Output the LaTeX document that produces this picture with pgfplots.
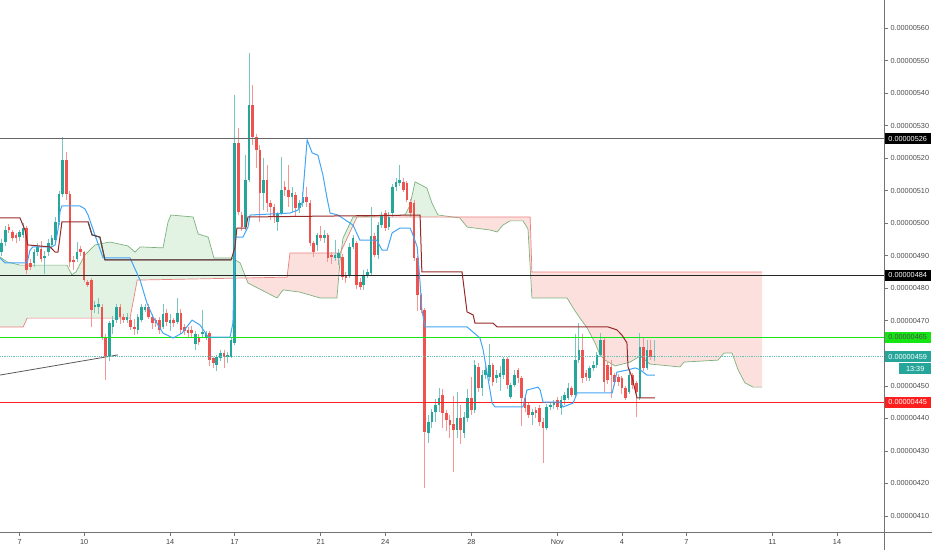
\documentclass[border=0pt]{standalone}
\usepackage{fontspec}
\setmainfont{Liberation Sans}
\usepackage{pgfplots}
\usepackage{pgfplotstable}
\pgfplotsset{compat=1.18}
\definecolor{upc}{RGB}{38,166,154}
\definecolor{dnc}{RGB}{239,83,80}
\definecolor{upw}{RGB}{120,198,190}
\definecolor{dnw}{RGB}{244,150,148}
\definecolor{cloudg}{RGB}{226,242,227}
\definecolor{cloudr}{RGB}{252,224,222}
\definecolor{leadA}{RGB}{125,178,125}
\definecolor{leadB}{RGB}{236,128,126}
\definecolor{tenkan}{RGB}{66,165,245}
\definecolor{kijun}{RGB}{150,40,40}
\definecolor{tvgreen}{RGB}{20,230,20}
\definecolor{tvred}{RGB}{255,30,30}
\definecolor{lastc}{RGB}{38,166,154}
\pgfplotstableread{
i o h l c
0 491.2 495.0 490.0 493.8
1 494.3 499.0 493.0 497.9
2 498.9 499.8 497.0 497.9
3 497.3 498.0 494.5 495.3
4 496.3 497.0 494.0 495.3
5 495.8 498.0 494.5 497.3
6 496.3 500.0 495.5 498.4
7 498.4 499.0 484.5 485.5
8 487.6 489.0 485.5 486.6
9 487.6 492.0 486.6 491.2
10 491.2 494.0 490.0 492.7
11 492.2 494.5 488.0 489.1
12 489.5 491.5 484.5 489.9
13 491.2 495.0 490.0 493.8
14 493.2 496.5 492.7 495.3
15 494.8 502.0 494.0 500.4
16 500.4 510.0 499.5 509.1
17 509.1 526.6 508.0 519.4
18 519.4 522.0 507.0 509.1
19 509.1 510.0 486.6 488.1
20 488.6 490.0 485.5 488.1
21 489.1 494.3 488.0 491.2
22 492.2 493.0 490.0 491.2
23 491.2 491.5 482.0 482.5
24 482.0 482.5 480.3 480.9
25 482.5 483.0 468.1 473.3
26 474.3 476.0 472.5 474.8
27 474.3 477.0 472.0 475.3
28 474.3 475.0 464.0 465.1
29 465.1 466.0 451.7 458.9
30 458.9 470.0 457.5 469.2
31 468.1 471.5 466.0 470.2
32 470.2 475.3 469.2 474.3
33 474.3 475.0 469.0 471.2
34 471.2 472.0 469.2 470.2
35 470.2 472.5 469.2 471.2
36 470.2 471.0 467.1 468.1
37 468.2 470.5 465.5 467.6
38 467.1 472.0 466.0 471.2
39 470.2 475.3 469.5 474.3
40 473.3 475.3 472.8 474.3
41 474.3 475.3 470.5 471.2
42 471.2 472.0 467.5 469.2
43 470.2 471.0 468.0 469.2
44 470.2 471.0 466.0 467.1
45 468.1 475.3 467.5 472.2
46 472.3 473.5 468.5 469.7
47 469.2 472.0 467.0 470.2
48 470.2 471.0 468.0 469.2
49 469.7 477.0 469.0 472.3
50 472.3 473.5 466.0 467.2
51 468.2 469.0 465.5 466.7
52 467.2 468.0 465.0 466.1
53 467.2 468.5 465.0 466.1
54 463.0 467.0 461.0 466.0
55 465.1 466.0 462.5 463.6
56 466.0 473.3 465.0 466.5
57 465.1 467.0 464.0 466.1
58 466.1 467.0 456.0 457.9
59 458.4 459.0 455.5 456.9
60 456.4 459.5 454.5 458.9
61 458.4 461.0 457.5 460.0
62 460.0 461.0 455.5 459.0
63 458.9 460.5 457.0 459.5
64 458.9 464.6 458.5 464.1
65 463.1 539.4 462.5 524.5
66 524.5 529.1 502.5 503.5
67 502.5 503.5 497.5 498.9
68 498.9 521.0 498.0 513.3
69 513.3 552.2 512.5 536.3
70 536.3 542.5 524.0 526.6
71 526.6 527.5 517.0 522.5
72 522.5 524.0 500.5 509.2
73 509.2 519.9 504.0 513.3
74 513.3 517.9 503.5 506.1
75 506.1 507.0 501.0 505.1
76 505.1 506.0 500.0 502.0
77 500.5 503.5 497.5 503.0
78 503.0 520.4 502.5 510.2
79 511.2 513.0 508.5 510.2
80 510.2 518.0 505.0 508.1
81 508.1 511.0 503.5 509.2
82 508.6 509.5 502.0 504.6
83 504.6 507.0 503.0 506.1
84 506.1 509.5 505.0 508.1
85 508.1 511.0 505.0 506.6
86 506.1 507.0 493.0 493.8
87 493.8 494.5 489.7 491.2
88 493.3 497.0 491.5 496.4
89 496.4 499.0 494.5 495.3
90 495.3 498.0 494.0 496.4
91 496.4 497.0 488.0 489.2
92 490.2 491.0 487.5 489.7
93 489.2 494.8 488.5 490.2
94 489.2 492.0 487.0 490.7
95 489.7 490.5 482.5 483.6
96 484.1 485.0 481.5 483.1
97 484.1 494.0 483.0 492.8
98 492.8 496.5 492.0 495.3
99 493.8 494.5 479.8 481.0
100 482.0 483.0 479.5 480.5
101 481.0 485.5 479.5 484.1
102 484.1 486.0 483.0 485.1
103 484.6 505.0 484.0 496.0
104 496.0 497.0 489.5 490.2
105 490.2 500.5 489.0 499.4
106 499.4 503.5 498.5 502.5
107 503.0 504.0 497.5 498.4
108 498.9 503.5 498.0 502.0
109 503.0 512.0 502.0 511.2
110 511.2 514.0 510.0 512.8
111 512.3 517.9 511.5 513.3
112 512.8 514.0 509.5 510.2
113 512.3 513.0 506.5 507.1
114 506.6 507.5 502.0 503.0
115 506.1 507.0 488.5 489.2
116 489.2 490.0 473.0 477.9
117 477.9 478.5 472.5 473.3
118 473.3 474.0 418.5 435.9
119 435.4 441.0 432.3 439.0
120 439.0 443.0 437.0 442.1
121 442.1 446.0 439.0 444.1
122 444.1 449.2 442.0 446.2
123 447.2 449.0 437.0 441.6
124 441.6 442.5 436.0 439.4
125 439.4 441.0 434.0 438.0
126 438.4 447.0 423.6 436.3
127 436.3 448.0 434.0 440.0
128 440.0 444.0 432.0 436.4
129 435.4 442.0 434.0 440.5
130 440.0 449.0 439.0 446.2
131 446.2 452.8 441.0 442.6
132 442.6 458.0 441.5 456.4
133 455.9 457.0 448.0 449.2
134 449.2 455.0 447.0 453.3
135 453.3 456.0 452.0 454.9
136 452.8 463.0 451.5 456.4
137 456.4 457.0 450.0 451.3
138 452.3 455.0 451.0 453.3
139 452.8 456.0 448.5 453.8
140 453.3 459.0 452.0 458.2
141 458.2 459.0 449.0 450.3
142 446.7 451.0 446.0 450.3
143 450.3 455.0 449.5 453.3
144 454.9 455.5 451.0 452.3
145 452.3 453.0 437.5 446.2
146 446.2 447.0 442.0 443.1
147 444.1 445.0 440.0 441.0
148 441.0 443.0 438.0 442.0
149 442.6 443.5 440.0 441.6
150 443.1 444.0 437.5 439.0
151 439.0 440.0 426.2 437.0
152 437.0 444.5 436.5 443.6
153 443.6 445.0 442.5 444.1
154 444.1 445.5 443.0 444.6
155 445.7 446.5 442.5 443.6
156 443.1 447.0 441.0 445.7
157 445.7 448.0 444.0 447.2
158 446.2 451.0 445.5 449.2
159 449.2 450.0 446.5 447.2
160 447.2 466.0 446.5 458.0
161 458.0 469.2 457.0 461.0
162 461.0 466.0 451.0 452.3
163 453.8 455.0 451.5 452.8
164 452.3 456.0 451.5 455.4
165 455.4 457.5 454.5 456.4
166 456.4 460.5 455.5 459.5
167 459.5 466.2 459.0 464.1
168 464.1 464.8 448.2 451.3
169 456.4 457.5 450.5 451.8
170 455.9 458.0 446.2 453.3
171 453.3 454.0 450.0 451.3
172 452.8 453.5 450.0 451.3
173 452.3 453.0 447.5 449.2
174 449.2 450.0 445.5 446.2
175 448.2 454.5 447.5 453.3
176 453.3 454.0 449.0 450.3
177 450.8 451.5 440.5 448.2
178 446.2 466.2 445.5 462.0
179 462.0 465.1 454.5 455.4
180 455.4 464.1 455.0 461.0
181 461.0 464.1 457.8 459.0
182 459.0 464.1 457.5 459.2
}\candles
\pgfplotsset{
  wickup/.style={draw=none, forget plot, error bars/.cd, y dir=both, y explicit, error mark=none,
     error bar style={draw=upw, solid, line width=0.9pt}},
  wickdn/.style={draw=none, forget plot, error bars/.cd, y dir=both, y explicit, error mark=none,
     error bar style={draw=dnw, solid, line width=0.9pt}},
  bodyup/.style={draw=none, forget plot, error bars/.cd, y dir=both, y explicit, error mark=none,
     error bar style={draw=upc, solid, line width=2.6pt, line cap=butt}},
  bodydn/.style={draw=none, forget plot, error bars/.cd, y dir=both, y explicit, error mark=none,
     error bar style={draw=dnc, solid, line width=2.6pt, line cap=butt}},
}
\newcommand{\tfont}{\fontsize{7.3}{8}\selectfont}
\begin{document}
\begin{tikzpicture}
\begin{axis}[
  at={(0pt,0pt)}, anchor=south west,
  scale only axis, width=884pt, height=532pt,
  xmin=-0.47, xmax=246.1, ymin=405.06, ymax=568.6,
  axis x line*=bottom, axis y line*=right,
  axis line style={draw=black!55, line width=0.7pt},
  xtick={5,23,47,65,89,107,131,155,173,191,215,233},
  xticklabels={7,10,14,17,21,24,28,Nov,4,7,11,14},
  ytick={410,420,430,440,450,460,470,480,490,500,510,520,530,540,550,560},
  yticklabels={0.00000410,0.00000420,0.00000430,0.00000440,0.00000450,{},0.00000470,0.00000480,0.00000490,0.00000500,0.00000510,0.00000520,0.00000530,0.00000540,0.00000550,0.00000560},
  tick align=outside, major tick length=4pt,
  tick style={draw=black!55, line width=0.6pt},
  xticklabel style={font=\tfont, text=black!75},
  yticklabel style={font=\tfont, text=black!70, xshift=-1pt},
  clip mode=individual,
  restrict y to domain=300:700,
]
% cloud fills
\addplot[fill=cloudg, draw=none, forget plot] coordinates {(-0.47,489.6) (1.5,488.1) (5.1,487.1) (18.2,487.1) (19.6,484.1) (20.7,485.0) (23.2,490.2) (26.0,493.3) (30.2,494.2) (35.2,493.0) (37.2,491.1) (38.6,492.7) (45.0,492.4) (46.4,500.4) (47.2,502.5) (53.4,501.9) (54.8,496.7) (57.6,495.7) (59.2,489.3) (64.2,489.3) (66.5,487.8) (68.1,483.3) (37.8,482.5) (35.8,470.8) (7.1,470.8) (6.0,468.1) (-0.47,468.1)};
\addplot[fill=cloudr, draw=none, forget plot] coordinates {(68.1,483.3) (68.7,481.6) (76.8,477.0) (78.5,479.5) (83.2,478.8) (88.8,477.0) (93.5,477.0) (94.4,488.7) (94.7,491.0) (94.4,490.8) (80.4,490.8) (79.6,483.4)};
\addplot[fill=cloudg, draw=none, forget plot] coordinates {(94.7,491.0) (95.2,495.4) (98.0,501.9) (99.1,501.9)};
\addplot[fill=cloudg, draw=none, forget plot] coordinates {(112.5,502.3) (113.9,505.6) (115.3,512.7) (118.6,510.8) (120.0,506.2) (121.7,502.5) (121.7,501.9) (112.5,501.9)};
\addplot[fill=cloudr, draw=none, forget plot] coordinates {(121.7,501.9) (127.8,501.6) (129.8,498.8) (136.2,497.9) (138.2,497.3) (139.8,499.4) (141.8,500.7) (145.4,500.7) (146.8,498.2) (147.9,477.0) (157.7,477.0) (159.4,473.9) (161.3,470.8) (163.3,467.8) (165.5,463.2) (166.9,459.5) (168.3,457.9) (171.1,456.1) (175.3,457.3) (178.1,459.2) (180.8,456.7) (189.2,455.8) (190.3,457.3) (199.8,457.9) (201.5,460.1) (203.7,460.1) (205.4,454.9) (207.3,450.9) (209.6,449.6) (212.1,449.6) (212.1,485.0) (147.9,485.0) (147.4,501.9)};
% lead lines
\addplot[leadA, line width=0.7pt, forget plot] coordinates {(-0.47,489.6) (1.5,488.1) (5.1,487.1) (18.2,487.1) (19.6,484.1) (20.7,485.0) (23.2,490.2) (26.0,493.3) (30.2,494.2) (35.2,493.0) (37.2,491.1) (38.6,492.7) (45.0,492.4) (46.4,500.4) (47.2,502.5) (53.4,501.9) (54.8,496.7) (57.6,495.7) (59.2,489.3) (64.2,489.3) (66.5,487.8) (68.7,481.6) (76.8,477.0) (78.5,479.5) (83.2,478.8) (88.8,477.0) (93.5,477.0) (94.4,488.7) (95.2,495.4) (98.0,501.9) (112.5,502.5) (113.9,505.6) (115.3,512.7) (118.6,510.8) (120.0,506.2) (121.7,502.5) (127.8,501.6) (129.8,498.8) (136.2,497.9) (138.2,497.3) (139.8,499.4) (141.8,500.7) (145.4,500.7) (146.8,498.2) (147.9,477.0) (157.7,477.0) (159.4,473.9) (161.3,470.8) (163.3,467.8) (165.5,463.2) (166.9,459.5) (168.3,457.9) (171.1,456.1) (175.3,457.3) (178.1,459.2) (180.8,456.7) (189.2,455.8) (190.3,457.3) (199.8,457.9) (201.5,460.1) (203.7,460.1) (205.4,454.9) (207.3,450.9) (209.6,449.6) (212.1,449.6)};
\addplot[leadB, line width=0.7pt, forget plot] coordinates {(-0.47,468.1) (6.0,468.1) (7.1,470.8) (35.8,470.8) (37.8,482.5) (79.6,483.4) (80.4,490.8) (94.4,490.8) (99.1,501.9) (147.4,501.9) (147.9,485.0) (212.1,485.0)};
% trend line
\addplot[black!65, line width=0.8pt, forget plot] coordinates {(-0.47,453.3) (32.4,459.5)};
% candles
\addplot[wickup] table[x=i, y expr={ifthenelse(\thisrow{c}<\thisrow{o},-1000,(\thisrow{h}+\thisrow{l})/2)}, y error expr={(\thisrow{h}-\thisrow{l})/2}] {\candles};
\addplot[wickdn] table[x=i, y expr={ifthenelse(\thisrow{c}<\thisrow{o},(\thisrow{h}+\thisrow{l})/2,-1000)}, y error expr={(\thisrow{h}-\thisrow{l})/2}] {\candles};
\addplot[bodyup] table[x=i, y expr={ifthenelse(\thisrow{c}<\thisrow{o},-1000,(\thisrow{o}+\thisrow{c})/2)}, y error expr={max(abs(\thisrow{c}-\thisrow{o})/2,0.18)}] {\candles};
\addplot[bodydn] table[x=i, y expr={ifthenelse(\thisrow{c}<\thisrow{o},(\thisrow{o}+\thisrow{c})/2,-1000)}, y error expr={max(abs(\thisrow{c}-\thisrow{o})/2,0.18)}] {\candles};
% horizontal levels
\addplot[black!60, line width=1.3pt, forget plot] coordinates {(-0.47,526) (246.1,526)};
\addplot[black!85, line width=0.9pt, forget plot] coordinates {(-0.47,484) (246.1,484)};
\addplot[tvgreen, line width=0.9pt, forget plot] coordinates {(-0.47,465) (246.1,465)};
\addplot[lastc!70, densely dotted, line width=0.8pt, forget plot] coordinates {(-0.47,459) (246.1,459)};
\addplot[tvred, line width=0.9pt, forget plot] coordinates {(-0.47,445) (246.1,445)};
% tenkan
\addplot[tenkan, line width=1.0pt, forget plot] coordinates {(-0.47,489.3) (0.9,487.8) (7.1,487.8) (7.9,491.7) (8.7,492.7) (12.6,492.7) (13.5,492.4) (14.9,493.3) (15.7,497.9) (16.3,503.7) (16.8,505.3) (21.8,505.3) (23.2,504.4) (24.1,502.5) (26.0,496.4) (28.3,489.3) (35.8,489.3) (38.6,482.5) (40.5,475.5) (42.2,471.2) (45.0,466.2) (47.8,464.7) (50.3,466.2) (53.1,470.2) (55.3,468.7) (56.7,466.5) (57.6,465.0) (63.7,465.0) (64.5,469.3) (65.1,495.7) (67.3,495.7) (68.7,498.8) (69.3,502.5) (80.4,503.1) (82.6,504.0) (83.8,506.2) (85.2,525.6) (86.6,521.6) (88.2,520.9) (89.6,514.8) (90.7,508.0) (91.6,503.1) (93.8,502.5) (98.0,499.4) (99.9,494.8) (104.6,494.8) (106.1,491.7) (107.5,491.7) (108.9,497.0) (111.1,498.5) (113.9,498.5) (114.5,497.0) (115.9,492.7) (116.7,481.6) (117.2,473.3) (118.1,468.1) (129.8,468.1) (133.4,464.7) (134.3,461.0) (136.8,444.7) (137.6,443.5) (145.4,443.5) (146.5,448.7) (149.6,449.6) (150.2,448.7) (151.0,445.0) (155.7,445.0) (156.6,443.5) (159.4,444.7) (160.5,447.8) (170.3,447.8) (171.6,454.2) (174.7,454.9) (176.7,455.5) (178.1,454.9) (180.0,453.3) (182.2,453.3)};
% kijun
\addplot[kijun, line width=1.0pt, forget plot] coordinates {(-0.47,501.6) (5.1,501.6) (6.5,497.9) (7.3,493.3) (13.5,492.7) (14.9,491.1) (15.7,491.1) (16.8,500.4) (24.1,500.4) (25.2,496.4) (27.4,495.7) (28.8,488.7) (64.0,488.7) (65.1,492.7) (65.6,498.5) (68.1,498.5) (68.7,501.9) (116.7,502.5) (117.2,485.0) (128.4,485.0) (129.8,472.7) (131.5,471.8) (132.0,469.3) (137.0,469.3) (138.2,468.1) (169.1,468.1) (171.6,467.2) (173.0,465.6) (174.4,463.2) (174.7,455.8) (175.8,452.7) (177.2,446.3) (182.2,446.3)};
\addplot[black!70, line width=1.0pt, forget plot] coordinates {(24.1,500.4) (25.2,496.4) (27.4,495.7) (28.8,488.7) (64.0,488.7)};
% price labels on the scale
\node[anchor=west, fill=black, text=white, inner sep=0pt, minimum width=47pt, minimum height=11pt, font=\tfont] at (axis cs:246.1,526) {0.00000526};
\node[anchor=west, fill=black, text=white, inner sep=0pt, minimum width=47pt, minimum height=11pt, font=\tfont] at (axis cs:246.1,484) {0.00000484};
\node[anchor=west, fill=tvgreen, text=black!70, inner sep=0pt, minimum width=47pt, minimum height=11pt, font=\tfont] at (axis cs:246.1,465) {0.00000465};
\node[anchor=west, fill=lastc, text=white, inner sep=0pt, minimum width=47pt, minimum height=11pt, font=\tfont] (lp) at (axis cs:246.1,459) {0.00000459};
\node[anchor=north east, fill=lastc, text=white, inner sep=0pt, minimum width=32pt, minimum height=11pt, font=\tfont] at ([yshift=-1pt]lp.south east) {13:39};
\node[anchor=west, fill=tvred, text=white, inner sep=0pt, minimum width=47pt, minimum height=11pt, font=\tfont] at (axis cs:246.1,445) {0.00000445};
\end{axis}
\draw[black!55, line width=0.7pt] (884pt,-18pt) -- (884pt,532pt);
\draw[black!55, line width=0.7pt] (0pt,0pt) -- (932pt,0pt);
\pgfresetboundingbox
\path (0pt,-18pt) rectangle (932pt,532pt);
\end{tikzpicture}
\end{document}
